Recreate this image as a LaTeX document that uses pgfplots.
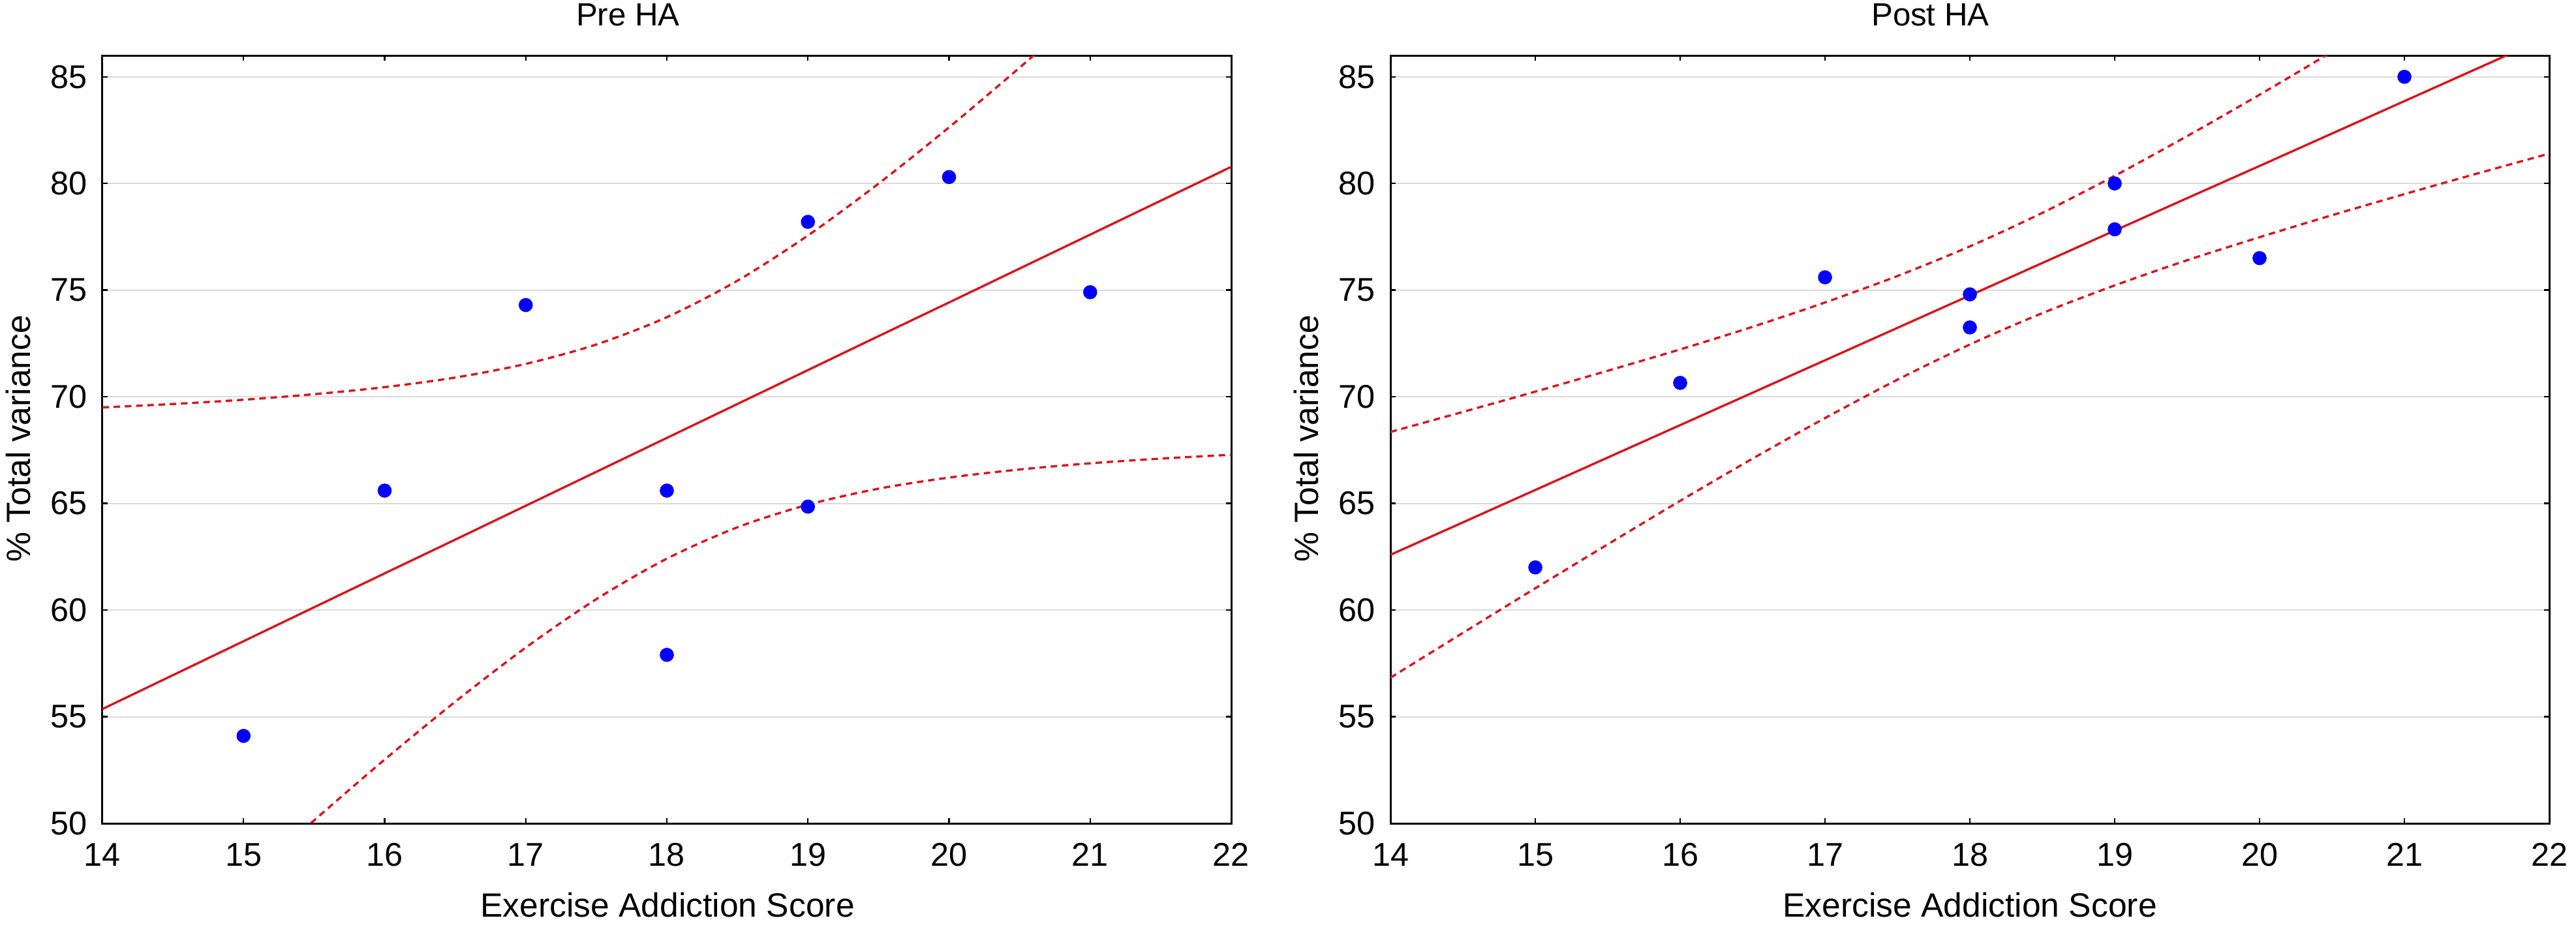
\documentclass[border=0pt]{standalone}
\usepackage{pgfplots}
\pgfplotsset{compat=1.18}
\usepackage{fontspec}
\setmainfont{Liberation Sans}
\definecolor{fitred}{RGB}{215,20,30}
\definecolor{ptblue}{RGB}{0,0,255}
\definecolor{gridgray}{RGB}{218,218,218}

\pgfplotstableread{
x y
15 54.1
16 65.6
17 74.3
18 65.6
18 57.9
19 78.2
19 64.85
20 80.3
21 74.9
}\preData

\pgfplotstableread{
x y
15 62.0
16 70.65
17 75.6
18 74.8
18 73.25
19 80.0
19 77.85
20 76.5
21 85.0
}\postData

% Pre HA: fit line and 95% band
\pgfplotstableread{
x fit up lo
14   55.36 69.50 41.22
14.5 56.95 69.66 44.24
15   58.54 69.86 47.22
15.5 60.13 70.12 50.14
16   61.72 70.45 52.99
16.5 63.30 70.90 55.70
17   64.89 71.54 58.24
17.5 66.48 72.45 60.51
18   68.07 73.73 62.41
18.5 69.66 75.44 63.88
19   71.25 77.56 64.94
19.5 72.84 79.99 65.69
20   74.42 82.63 66.21
20.5 76.01 85.43 66.59
21   77.60 88.32 66.88
21.5 79.19 91.28 67.10
22   80.78 94.28 67.28
}\preBand

% Post HA
\pgfplotstableread{
x fit up lo
14   62.59 68.35 56.83
14.5 64.11 69.29 58.93
15   65.63 70.24 61.02
15.5 67.15 71.22 63.08
16   68.67 72.22 65.12
16.5 70.19 73.28 67.10
17   71.71 74.42 69.00
17.5 73.23 75.66 70.80
18   74.75 77.05 72.45
18.5 76.27 78.62 73.92
19   77.79 80.36 75.22
19.5 79.31 82.22 76.40
20   80.82 84.16 77.48
20.5 82.34 86.17 78.51
21   83.86 88.22 79.50
21.5 85.38 90.30 80.46
22   86.90 92.40 81.40
}\postBand

\pgfplotsset{
  myaxis/.style={
    scale only axis,
    height=294.25pt,
    xmin=14, xmax=22, ymin=50, ymax=86,
    xtick={14,15,...,22},
    ytick={50,55,...,85},
    tick align=inside,
    major tick length=2pt,
    tick style={black, line width=0.6pt},
    axis line style={black, line width=0.75pt},
    ymajorgrids,
    grid style={gridgray, line width=0.5pt},
    /pgf/number format/assume math mode=true,
    ticklabel style={font=\fontsize{12.6}{15}\selectfont},
    yticklabel style={inner sep=0pt, xshift=-5.75pt, anchor=east},
    xticklabel style={inner sep=0pt, yshift=-7.4pt, anchor=north},
    clip=true,
  },
  fitline/.style={fitred, line width=0.85pt, no marks},
  bandline/.style={fitred, line width=0.85pt, no marks, smooth, dash pattern=on 2.5pt off 1.8pt},
  pts/.style={only marks, mark=*, mark size=2.5pt, mark options={fill=ptblue, draw=ptblue}},
}

\begin{document}
\begin{tikzpicture}
\useasboundingbox (0,0) rectangle (987pt,-356.5pt);

\begin{axis}[myaxis, width=432.5pt, at={(39.25pt,-315.5pt)}, anchor=south west]
\addplot[bandline] table[x=x, y=up] {\preBand};
\addplot[bandline] table[x=x, y=lo] {\preBand};
\addplot[fitline] table[x=x, y=fit] {\preBand};
\addplot[pts] table[x=x, y=y] {\preData};
\end{axis}

\begin{axis}[myaxis, width=444pt, at={(532.75pt,-315.5pt)}, anchor=south west]
\addplot[bandline] table[x=x, y=up] {\postBand};
\addplot[bandline] table[x=x, y=lo] {\postBand};
\addplot[fitline] table[x=x, y=fit] {\postBand};
\addplot[pts] table[x=x, y=y] {\postData};
\end{axis}

\begin{scope}[every node/.style={inner sep=0pt}]
\node[anchor=base, font=\fontsize{12.3}{14}\selectfont] at (240.6pt,-9.75pt) {Pre HA};
\node[anchor=base, font=\fontsize{12.3}{14}\selectfont] at (739.6pt,-9.75pt) {Post HA};
\node[anchor=base, font=\fontsize{12.9}{15}\selectfont] at (255.75pt,-351.25pt) {Exercise Addiction Score};
\node[anchor=base, font=\fontsize{12.9}{15}\selectfont] at (754.75pt,-351.25pt) {Exercise Addiction Score};
\node[anchor=base, rotate=90, font=\fontsize{12.9}{15}\selectfont] at (11.75pt,-168pt) {\% Total variance};
\node[anchor=base, rotate=90, font=\fontsize{12.9}{15}\selectfont] at (505pt,-168pt) {\% Total variance};
\end{scope}
\end{tikzpicture}
\end{document}
